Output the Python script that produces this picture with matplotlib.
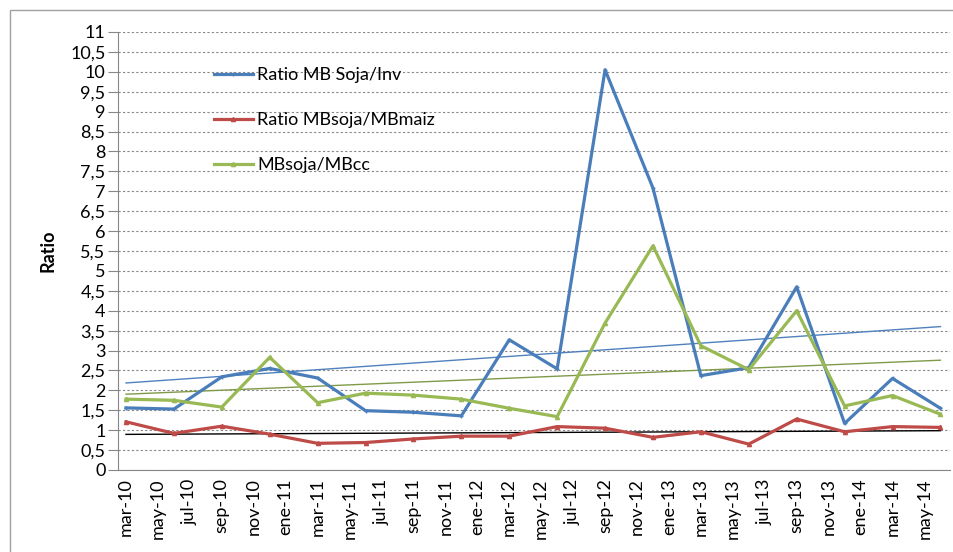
import numpy as np
import pandas as pd
import matplotlib
matplotlib.use('Agg')
import matplotlib.pyplot as plt
from matplotlib.patches import Rectangle

# quarterly observations
dates = ['2010-03', '2010-06', '2010-09', '2010-12', '2011-03', '2011-06',
         '2011-09', '2011-12', '2012-03', '2012-06', '2012-09', '2012-12',
         '2013-03', '2013-06', '2013-09', '2013-12', '2014-03', '2014-06']
soja_inv = [1.56, 1.53, 2.34, 2.55, 2.31, 1.49, 1.45, 1.36, 3.27,
            2.54, 10.05, 7.08, 2.37, 2.57, 4.60, 1.17, 2.30, 1.55]
soja_maiz = [1.21, 0.92, 1.10, 0.90, 0.67, 0.69, 0.78, 0.85, 0.85,
             1.09, 1.05, 0.82, 0.96, 0.65, 1.28, 0.96, 1.09, 1.07]
soja_cc = [1.78, 1.75, 1.58, 2.83, 1.69, 1.93, 1.88, 1.78, 1.55,
           1.34, 3.69, 5.63, 3.12, 2.52, 4.00, 1.61, 1.87, 1.40]

# axis labels every two months
tick_dates = pd.date_range('2010-03-01', '2014-05-01', freq='2MS')
mes = {1: 'ene', 3: 'mar', 5: 'may', 7: 'jul', 9: 'sep', 11: 'nov'}
tick_labels = [f"{mes[d.month]}-{d.year % 100:02d}" for d in tick_dates]


def month_index(d):
    d = pd.Timestamp(d)
    return (d.year - 2010) * 12 + d.month - 3


x = np.array([month_index(d) for d in dates])
xt = [month_index(d) for d in tick_dates]

plt.rcParams['font.family'] = ['Lato', 'DejaVu Sans']
fs = 13

fig = plt.figure(figsize=(9.54, 5.52), dpi=100)
ax = fig.add_axes([118 / 954, 1 - 470 / 552, 832 / 954, 438 / 552])

series = [
    (soja_inv, 'Ratio MB Soja/Inv', '#4A7EBB', '+', '#4F81BD'),
    (soja_maiz, 'Ratio MBsoja/MBmaiz', '#BE4B48', '^', '#000000'),
    (soja_cc, 'MBsoja/MBcc', '#98B954', '^', '#7F9A48'),
]

for y, label, color, mk, tcol in series:
    ax.plot(x, y, color=color, lw=2.3, marker=mk, ms=3, mew=1, label=label, zorder=3)

# linear trend lines
for y, label, color, mk, tcol in series:
    k, b = np.polyfit(x, y, 1)
    ax.plot(x, k * x + b, color=tcol, lw=1.0, zorder=2)

ax.set_xlim(-0.5, x[-1] + 0.6)
ax.set_ylim(0, 11)
ax.set_yticks(np.arange(0, 11.01, 0.5))
ax.set_yticklabels([f"{v:g}".replace('.', ',') for v in np.arange(0, 11.01, 0.5)], fontsize=fs)
ax.set_xticks(xt)
ax.set_xticklabels(tick_labels, rotation=90, fontsize=fs)
ax.tick_params(axis='x', length=0, pad=6)
ax.tick_params(axis='y', length=7, color='#868686', pad=2)

ax.yaxis.grid(True, color='#868686', lw=0.8, ls=(0, (2, 2)))
ax.set_axisbelow(True)
for s in ['top', 'right']:
    ax.spines[s].set_visible(False)
for s in ['left', 'bottom']:
    ax.spines[s].set_color('#868686')

ax.set_ylabel('Ratio', fontsize=fs, fontweight='bold', labelpad=10)

ax.legend(loc='upper left', bbox_to_anchor=(0.104, 0.94), frameon=False,
          fontsize=fs, labelspacing=1.6, handlelength=2.2, handletextpad=0.2,
          borderpad=0)

# chart border
fig.patches.append(Rectangle((10 / 954, -0.02), 1.0, 1 - 10 / 552 + 0.02,
                             transform=fig.transFigure, fill=False,
                             edgecolor='#A0A0A0', lw=1))

plt.savefig('out.png', dpi=100)
